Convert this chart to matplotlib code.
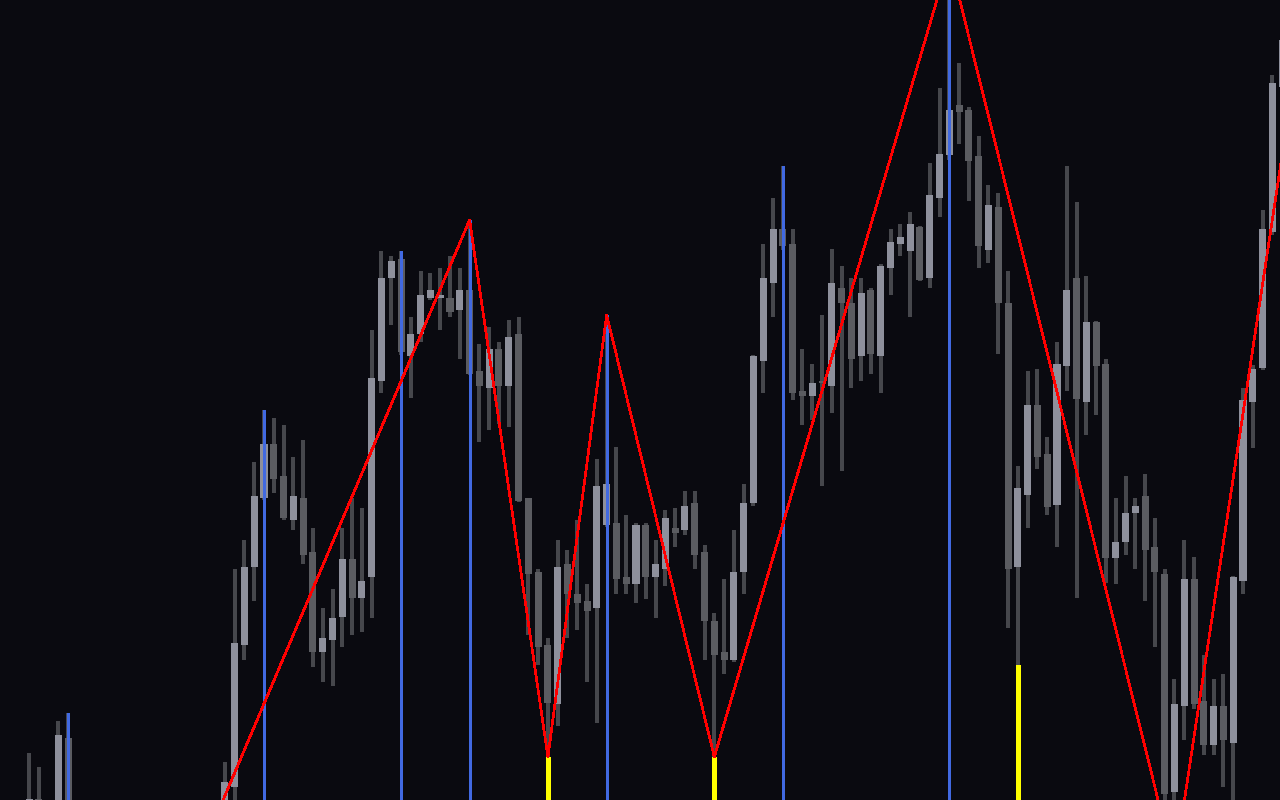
import numpy as np
import matplotlib
matplotlib.use("Agg")
import matplotlib.pyplot as plt

nan = float("nan")

# OHLC values (price units), one entry per bar; NaN = bar lies below the visible range
opens = [-15, 1, nan, -15, 62] + [nan] * 15 + [
    -15, 13, 155, 233, 302, 356, 324, 280, 302, 248, 148, 160, 183, 241, 202,
    223, 419, 522, 541, 444, 466, 502, 502, 502, 490, 510, 429, 412, 451, 414,
    466, 302, 228, 155, 96, 236, 206, 199, 192, 275, 277, 223, 216, 275, 223,
    231, 272, 270, 297, 248, 179, 148, 140, 228, 297, 439, 517, 571, 556, 409,
    404, 419, 414, 512, 497, 444, 510, 444, 532, 556, 549, 573, 522, 602, 645,
    695, 690, 644, 550, 593, 497, 233, 305, 395, 346, 295, 434, 522, 398, 478,
    436, 242, 258, 287, 304, 253, 226, 8, 94, 221, 99, 55, 94, 57, 219,
    398, 432, 568, 713]
highs = [47, 33, nan, 79, 87] + [nan] * 15 + [
    38, 231, 260, 338, 390, 382, 375, 343, 360, 272, 192, 211, 272, 302, 292,
    470, 549, 544, 549, 483, 529, 527, 532, 544, 532, 580, 456, 473, 458, 480,
    483, 302, 231, 162, 260, 250, 280, 216, 341, 485, 353, 285, 277, 277, 260,
    290, 292, 309, 309, 255, 187, 221, 270, 316, 445, 556, 602, 634, 571, 451,
    436, 485, 551, 534, 522, 522, 512, 536, 571, 576, 588, 574, 637, 712, 842,
    737, 693, 664, 615, 607, 529, 334, 429, 431, 363, 458, 634, 598, 524, 479,
    441, 302, 324, 302, 326, 282, 231, 121, 260, 243, 145, 121, 126, 224, 412,
    435, 590, 725, 770]
lows = [-30, -30, nan, -30, -30] + [nan] * 15 + [
    -25, -5, 140, 199, 300, 307, 280, 270, 236, 133, 118, 114, 153, 165, 168,
    182, 407, 475, 445, 402, 458, 500, 470, 483, 441, 425, 358, 370, 376, 373,
    298, 165, 135, 43, 74, 162, 170, 118, 77, 273, 206, 206, 197, 201, 182,
    214, 253, 265, 231, 140, 43, 126, 138, 206, 294, 407, 483, 550, 400, 375,
    380, 314, 387, 329, 412, 419, 426, 407, 505, 544, 483, 519, 512, 583, 640,
    656, 599, 532, 537, 446, 172, 135, 272, 331, 285, 253, 409, 202, 365, 385,
    217, 216, 245, 231, 199, 153, -5, -66, 60, 91, 45, 45, 13, -10, 206,
    352, 430, 565, 705]
closes = [1, -15, nan, 65, -15] + [nan] * 15 + [
    18, 157, 233, 304, 356, 321, 282, 304, 245, 148, 162, 182, 241, 202, 219,
    422, 522, 539, 448, 466, 505, 510, 505, 488, 510, 426, 414, 451, 414, 463,
    299, 226, 153, 97, 233, 206, 197, 189, 314, 316, 221, 216, 275, 223, 236,
    282, 267, 294, 245, 179, 145, 140, 228, 297, 444, 522, 571, 554, 407, 404,
    417, 417, 517, 497, 441, 507, 446, 534, 558, 563, 576, 520, 605, 646, 690,
    688, 639, 554, 595, 497, 231, 312, 395, 343, 293, 436, 510, 401, 478, 434,
    242, 258, 287, 294, 250, 228, 6, 96, 221, 96, 55, 94, 60, 223, 400,
    431, 571, 717, 760]

# swing markers (bar indices)
pivot_high_idx = [4, 24, 38, 45, 59, 77, 94]
pivot_low_idx = [53, 70, 101]

# zigzag vertices (bar index, price)
zigzag_idx = [18, 45, 53, 59, 70, 94, 117, 128]
zigzag_val = [-42, 580, 43, 485, 43, 842, -66, 645]

BG = "#0a0a10"
UP = "#8e909c"
DOWN = "#5b5c61"
WICK = "#46474c"

fig = plt.figure(figsize=(12.8, 8), dpi=100, facecolor=BG)
ax = fig.add_axes([0, 0, 1, 1])
ax.set_facecolor(BG)
ax.set_axis_off()

o = np.array(opens, float)
h = np.array(highs, float)
l = np.array(lows, float)
c = np.array(closes, float)
x = np.arange(len(o))
ok = ~np.isnan(o)

ax.set_xlim(-2.966, 127.78)
ax.set_ylim(0, 800)
ybot = ax.get_ylim()[0] - 50

# wicks
ax.vlines(x[ok], l[ok], h[ok], color=WICK, lw=1.5, zorder=1, antialiased=False)
# bodies
up = ok & (c >= o)
dn = ok & (c < o)
ax.bar(x[up], np.maximum(c[up] - o[up], 1.5), bottom=o[up], width=0.72,
       color=UP, linewidth=0, zorder=2)
ax.bar(x[dn], np.maximum(o[dn] - c[dn], 1.5), bottom=c[dn], width=0.72,
       color=DOWN, linewidth=0, zorder=2)

# pivot markers
ph = np.array(pivot_high_idx)
pl = np.array(pivot_low_idx)
ax.vlines(ph, ybot, h[ph], color="#4169e1", lw=1.8, zorder=3, antialiased=False)
ax.vlines(pl, ybot, l[pl], color="#ffff00", lw=2.2, zorder=3, antialiased=False)

# zigzag
ax.plot(zigzag_idx, zigzag_val, color="#ff0000", lw=1.2, zorder=4, antialiased=False)

fig.savefig("out.png", dpi=100, facecolor=BG)
